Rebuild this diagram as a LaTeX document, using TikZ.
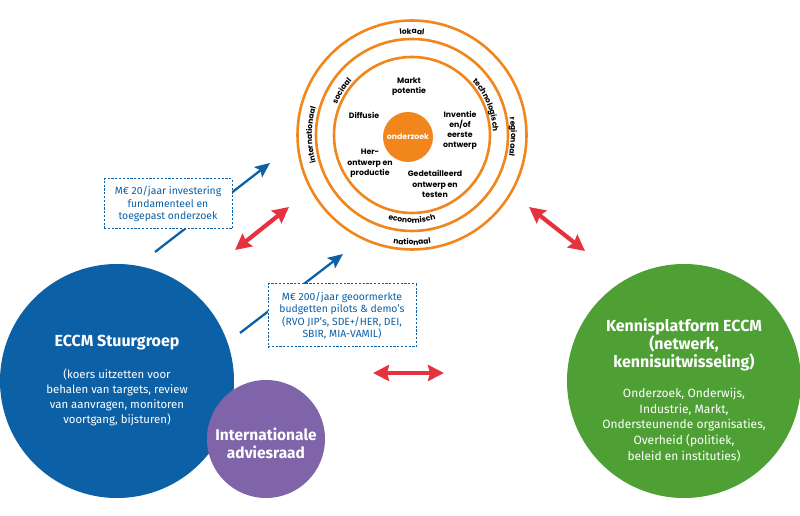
\documentclass[tikz,border=0pt]{standalone}
\usepackage{fontspec}
\setmainfont{Fira Sans}
\newfontfamily\ringfont{Poppins}
\usetikzlibrary{decorations.text,arrows.meta}
\definecolor{eblue}{RGB}{12,96,166}
\definecolor{epurple}{RGB}{128,100,170}
\definecolor{egreen}{RGB}{78,160,52}
\definecolor{eorange}{RGB}{240,134,28}
\definecolor{ered}{RGB}{230,50,62}
\newcommand{\ringsty}{\ringfont\bfseries\fontsize{7.6}{8}\selectfont}
\tikzset{
  ring/.style={circle, draw=eorange, line width=2.6pt, inner sep=0pt},
  inlabel/.style={font=\ringfont\bfseries\fontsize{7.8}{10.2}\selectfont, align=center, text=black},
  bigcirc/.style={circle, inner sep=0pt},
  whitetext/.style={text=white, align=center},
  fundbox/.style={draw=eblue, dash pattern=on 2.2pt off 1.6pt, line width=1pt, fill=white, text=eblue, align=center, inner sep=0pt, font=\fontsize{10.4}{12.5}\selectfont},
  bluearrow/.style={draw=eblue, line width=2.3pt, -{Stealth[length=15pt,width=13pt,inset=3pt]}},
  redarrow/.style={draw=ered, line width=4.2pt, {Stealth[length=16pt,width=16pt,inset=2pt]}-{Stealth[length=16pt,width=16pt,inset=2pt]}},
}
\begin{document}
\begin{tikzpicture}[x=1pt,y=1pt]
\useasboundingbox (0,0) rectangle (800,516);
% rings
\coordinate (c) at (412,381);
\node[ring, minimum size=229pt] (outer) at (c) {};
\node[ring, minimum size=192pt] (middle) at (c) {};
\node[ring, minimum size=156pt] (inner) at (c) {};
\node[circle, fill=eorange, minimum size=50pt, inner sep=0pt, text=white, font=\ringfont\bfseries\fontsize{7.8}{9}\selectfont] (onderzoek) at (408,379) {onderzoek};
% ring labels
\path[decorate, decoration={text along path, text={|\ringsty|lokaal}, text align=center}] ([shift={(120:101)}]c) arc[start angle=120, end angle=60, radius=101];
\path[decorate, decoration={text along path, text={|\ringsty|nationaal}, text align=center}] ([shift={(240:110)}]c) arc[start angle=240, end angle=300, radius=110];
\path[decorate, decoration={text along path, text={|\ringsty|internationaal}, text align=center}] ([shift={(215:100)}]c) arc[start angle=215, end angle=145, radius=100];
\path[decorate, decoration={text along path, text={|\ringsty|regionaal}, text align=center}] ([shift={(30:99)}]c) arc[start angle=30, end angle=-32, radius=99];
\path[decorate, decoration={text along path, text={|\ringsty|sociaal}, text align=center}] ([shift={(180:81)}]c) arc[start angle=180, end angle=116, radius=81];
\path[decorate, decoration={text along path, text={|\ringsty|technologisch}, text align=center}] ([shift={(64:81)}]c) arc[start angle=64, end angle=-20, radius=81];
\path[decorate, decoration={text along path, text={|\ringsty|economisch}, text align=center}] ([shift={(235:88)}]c) arc[start angle=235, end angle=305, radius=88];
% inner labels
\node[inlabel] (markt) at (409,429) {Markt\\potentie};
\node[inlabel] (diffusie) at (364,401) {Diffusie};
\node[inlabel] (inventie) at (460,385.5) {Inventie\\en/of\\eerste\\ontwerp};
\node[inlabel] (her) at (370,352.5) {Her-\\ontwerp en\\productie};
\node[inlabel] (gedet) at (435,332) {Gedetailleerd\\ontwerp en\\testen};
% big circles
\node[bigcirc, fill=eblue, minimum size=234pt] (stuur) at (117,135) {};
\node[bigcirc, fill=egreen, minimum size=234pt] (kennis) at (684,135) {};
\node[bigcirc, fill=epurple, minimum size=118pt] (advies) at (266,77) {};
\node[whitetext, font=\bfseries\fontsize{16}{18}\selectfont] (stuurtitle) at (117,173) {ECCM Stuurgroep};
\node[whitetext, font=\fontsize{11.4}{15}\selectfont] (stuurbody) at (117,118.5) {(koers uitzetten voor\\behalen van targets, review\\van aanvragen, monitoren\\voortgang, bijsturen)};
\node[whitetext, font=\bfseries\fontsize{15.5}{18}\selectfont] (adviestext) at (266,73) {Internationale\\adviesraad};
\node[whitetext, font=\bfseries\fontsize{16}{18}\selectfont] (kennistitle) at (684,171) {Kennisplatform ECCM\\(netwerk,\\kennisuitwisseling)};
\node[whitetext, font=\fontsize{12}{15.6}\selectfont] (kennisbody) at (684,91) {Onderzoek, Onderwijs,\\Industrie, Markt,\\Ondersteunende organisaties,\\Overheid (politiek,\\beleid en instituties)};
% blue arrows
\coordinate (a1s) at (155,264);
\coordinate (a1e) at (270,353);
\coordinate (a2s) at (240,183);
\coordinate (a2e) at (343,262);
\draw[bluearrow] (a1s) -- (a1e);
\draw[bluearrow] (a2s) -- (a2e);
\node[fundbox, minimum width=128pt, minimum height=50pt] (box1) at (168,312) {M€ 20/jaar investering\\fundamenteel en\\toegepast onderzoek};
\node[fundbox, minimum width=148pt, minimum height=63pt] (box2) at (342,200.5) {M€ 200/jaar geoormerkte\\budgetten pilots \& demo’s\\(RVO JIP’s, SDE+/HER, DEI,\\SBIR, MIA-VAMIL)};
% red arrows
\coordinate (r1a) at (235,266);
\coordinate (r1b) at (289,309);
\coordinate (r2a) at (529,309);
\coordinate (r2b) at (585,265);
\coordinate (r3a) at (373,143);
\coordinate (r3b) at (444,143);
\draw[redarrow] (r1a) -- (r1b);
\draw[redarrow] (r2a) -- (r2b);
\draw[redarrow] (r3a) -- (r3b);
\end{tikzpicture}
\end{document}
